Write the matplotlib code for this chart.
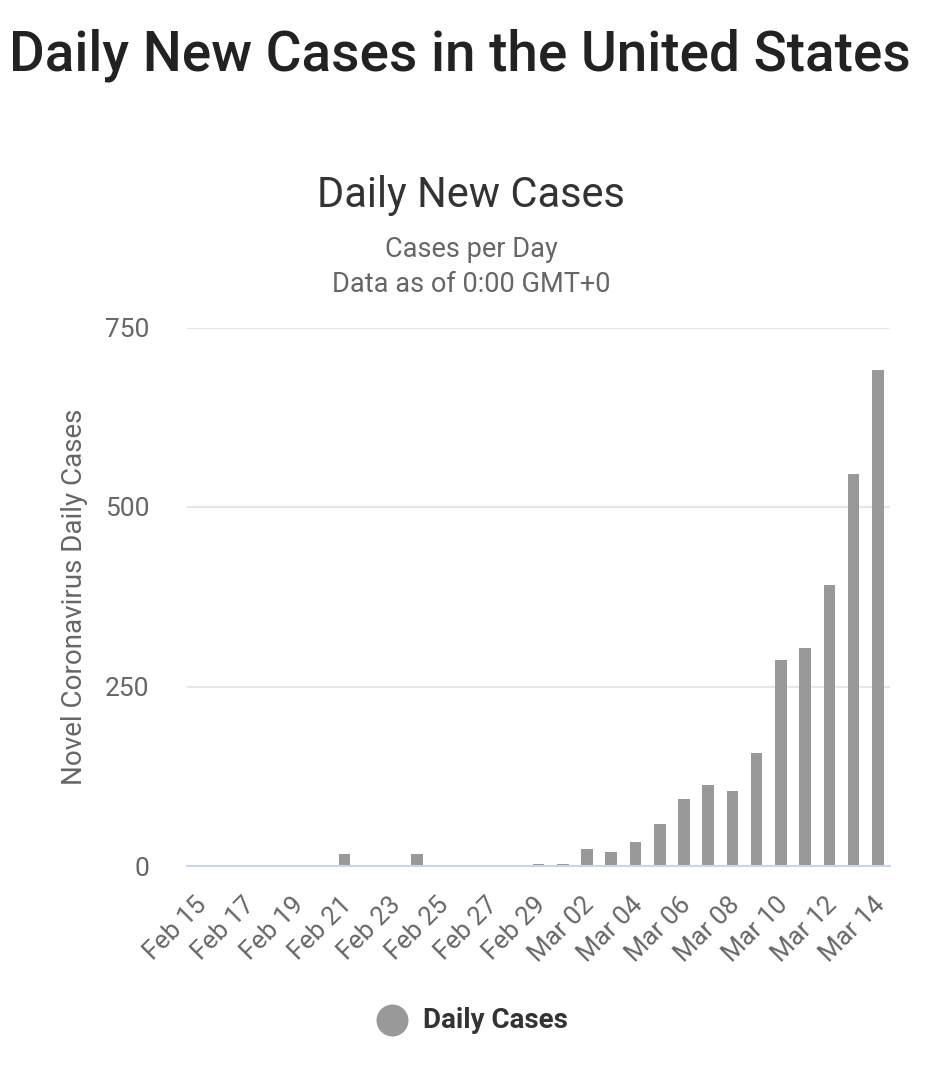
import matplotlib
matplotlib.use("Agg")
import matplotlib.pyplot as plt
import matplotlib.transforms as mtransforms
import numpy as np

plt.rcParams['font.family'] = ['Roboto', 'DejaVu Sans']

# data
dates = ["Feb 15", "Feb 16", "Feb 17", "Feb 18", "Feb 19", "Feb 20", "Feb 21",
         "Feb 22", "Feb 23", "Feb 24", "Feb 25", "Feb 26", "Feb 27", "Feb 28",
         "Feb 29", "Mar 01", "Mar 02", "Mar 03", "Mar 04", "Mar 05", "Mar 06",
         "Mar 07", "Mar 08", "Mar 09", "Mar 10", "Mar 11", "Mar 12", "Mar 13",
         "Mar 14"]
daily_cases = [0, 0, 0, 0, 0, 0, 17, 0, 0, 17, 0, 0, 0, 0,
               3, 3, 23, 20, 33, 58, 93, 113, 104, 158, 287, 304, 391, 546, 691]
y_ticks = [0, 250, 500, 750]

W, H = 947, 1080
fig = plt.figure(figsize=(W / 100, H / 100), dpi=100)
fig.patch.set_facecolor("white")

fig.text(460 / W, 1 - 55 / H, "Daily New Cases in the United States",
         ha="center", va="center", fontsize=39.5, fontweight="medium", color="#222222")
fig.text(471 / W, 1 - 196 / H, "Daily New Cases", ha="center", va="center",
         fontsize=30, color="#333333")
fig.text(471 / W, 1 - 249 / H, "Cases per Day", ha="center", va="center",
         fontsize=19.5, color="#666666")
fig.text(471 / W, 1 - 284 / H, "Data as of 0:00 GMT+0", ha="center", va="center",
         fontsize=19.5, color="#666666")

ax = fig.add_axes([187 / W, 1 - 866 / H, (890 - 187) / W, (866 - 327.5) / H])
x = np.arange(len(dates))
ax.bar(x, daily_cases, width=0.48, color="#999999", zorder=3)

ax.set_xlim(-0.5, len(dates) - 0.5)
ax.set_ylim(0, 750)
ax.set_yticks(y_ticks)
ax.set_yticklabels([str(v) for v in y_ticks])
ax.grid(axis="y", color="#e6e6e6", linewidth=1.5, zorder=0)
for s in ["top", "right", "left"]:
    ax.spines[s].set_visible(False)
ax.spines["bottom"].set_color("#ccd6eb")
ax.spines["bottom"].set_linewidth(1.5)
ax.spines["bottom"].set_zorder(4)

ax.set_xticks(x[::2])
ax.set_xticklabels(dates[::2], rotation=45, ha="right", rotation_mode="anchor")
ax.tick_params(axis="x", length=0, pad=19, labelsize=18.5, labelcolor="#666666")
ax.tick_params(axis="y", length=0, pad=27, labelsize=19, labelcolor="#666666")
shift = mtransforms.ScaledTranslation(-5 / 100, 0, fig.dpi_scale_trans)
for lab in ax.get_xticklabels():
    lab.set_transform(lab.get_transform() + shift)

ax.text((75 - 187) / 703, 0.5, "Novel Coronavirus Daily Cases", transform=ax.transAxes,
        rotation=90, ha="center", va="center", fontsize=20, color="#666666")

# legend
fig.lines.append(plt.Line2D([392 / W], [1 - 1020 / H], marker="o", markersize=22,
                            color="#999999", transform=fig.transFigure))
fig.text(423 / W, 1 - 1020 / H, "Daily Cases", ha="left", va="center",
         fontsize=20, fontweight="bold", color="#333333")

fig.savefig("out.png", dpi=100, facecolor="white")
